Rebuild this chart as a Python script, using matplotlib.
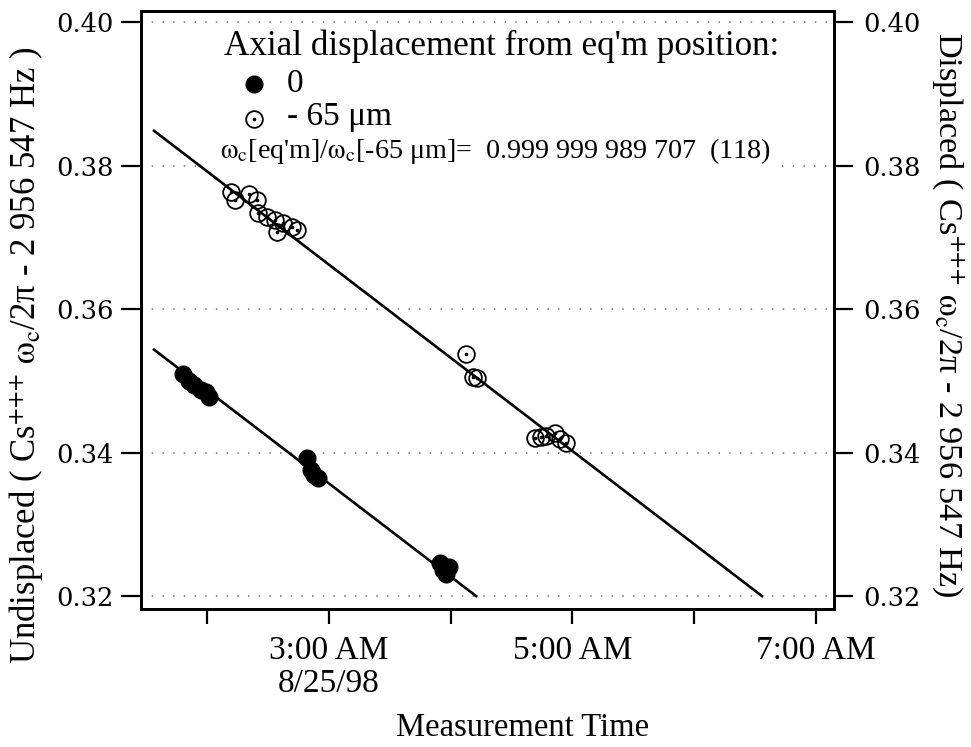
import numpy as np
import matplotlib
matplotlib.use("Agg")
import matplotlib.pyplot as plt
from matplotlib.lines import Line2D

# Measurement times: hours after midnight on 8/25/98
# Frequencies: Cs+++ omega_c/2pi - 2 956 547 Hz
eqm_time = [1.80, 1.85, 1.89, 1.95, 1.99, 2.02,
            2.82, 2.85, 2.88, 2.91,
            3.91, 3.94, 3.96, 3.99]
eqm_freq = [0.3510, 0.3500, 0.3494, 0.3488, 0.3484, 0.3478,
            0.3393, 0.3376, 0.3369, 0.3365,
            0.3246, 0.3236, 0.3231, 0.3241]

disp_time = [2.195, 2.230, 2.347, 2.408, 2.421, 2.490, 2.558, 2.572, 2.626, 2.695, 2.736,
             4.124, 4.186, 4.214,
             4.69, 4.74, 4.78, 4.86, 4.90, 4.95]
disp_freq = [0.3763, 0.3752, 0.3761, 0.3752, 0.3734, 0.3729, 0.3725, 0.3708, 0.3720, 0.3715, 0.3711,
             0.3538, 0.3506, 0.3504,
             0.3421, 0.3422, 0.3423, 0.3428, 0.3419, 0.3413]

# Linear drift fits (common slope, Hz per hour) and values at t = 0
fit_slope = -0.0130
eqm_intercept = 0.37472
disp_intercept = 0.40524
fit_start = 1.565
fit_floor = 0.32

x_ticks = [2, 3, 4, 5, 6, 7]
x_tick_labels = ["", "3:00 AM\n8/25/98", "", "5:00 AM", "", "7:00 AM"]
y_ticks = [0.32, 0.34, 0.36, 0.38, 0.40]
y_tick_labels = ["0.32", "0.34", "0.36", "0.38", "0.40"]

plt.rcParams["font.family"] = ["Liberation Serif", "DejaVu Serif"]
plt.rcParams["mathtext.fontset"] = "stix"

W, H = 971, 747
fig = plt.figure(figsize=(W / 100, H / 100), dpi=100)


def fx(px):
    return px / W


def fy(py):
    return 1 - py / H


ax = fig.add_axes([fx(141), fy(609), fx(834) - fx(141), fy(11) - fy(609)])
ax2 = ax.twinx()

xlim = (1.458, 7.148)
ylim = (0.3182, 0.4016)
for a in (ax, ax2):
    a.set_xlim(*xlim)
    a.set_ylim(*ylim)
    a.set_yticks(y_ticks)
    a.set_yticklabels(y_tick_labels, family="DejaVu Serif", fontsize=18.5)
    for s in a.spines.values():
        s.set_linewidth(2.0)

ax.set_xticks(x_ticks)
ax.set_xticklabels(x_tick_labels, fontsize=24, linespacing=1.12)
ax.tick_params(axis="x", direction="out", length=11, width=1.6, pad=8)
ax.tick_params(axis="y", direction="out", length=14.5, width=1.6, pad=5)
ax2.tick_params(axis="y", direction="out", length=14, width=1.6, pad=7)

# dotted reference lines at each frequency tick; the 0.38 line is
# interrupted where the frequency-ratio annotation sits
grid_kw = dict(color="#777777", lw=1.1, ls=(0, (1, 6)), zorder=1)
for yv in y_ticks:
    if yv == 0.38:
        ax.axhline(yv, xmin=0.0, xmax=0.09, **grid_kw)
        ax.axhline(yv, xmin=0.925, xmax=1.0, **grid_kw)
    else:
        ax.axhline(yv, **grid_kw)

# drift fits, drawn down to the 0.32 level
for b, axis in ((eqm_intercept, ax), (disp_intercept, ax2)):
    t_end = (fit_floor - b) / fit_slope
    t = np.array([fit_start, t_end])
    axis.plot(t, b + fit_slope * t, color="black", lw=1.9, zorder=3)

ax.plot(eqm_time, eqm_freq, ls="none", marker="o", ms=12,
        mfc="black", mec="black", zorder=4)
ax2.plot(disp_time, disp_freq, ls="none", marker="o", ms=12,
         mfc="none", mec="black", mew=1.3, zorder=4)
ax2.plot(disp_time, disp_freq, ls="none", marker="o", ms=1.6,
         mfc="black", mec="black", zorder=4)

# legend block
fig.text(fx(502), fy(46), "Axial displacement from eq'm position:",
         ha="center", va="center", fontsize=25.2)
fig.add_artist(Line2D([fx(254)], [fy(84)], transform=fig.transFigure,
                      marker="o", ms=12, mfc="black", mec="black"))
fig.text(fx(287), fy(84), "0", ha="left", va="center", fontsize=24)
fig.add_artist(Line2D([fx(254)], [fy(119)], transform=fig.transFigure,
                      marker="o", ms=12, mfc="none", mec="black", mew=1.3))
fig.add_artist(Line2D([fx(254)], [fy(119)], transform=fig.transFigure,
                      marker="o", ms=1.6, mfc="black", mec="black"))
fig.text(fx(287), fy(117), "- 65 μm", ha="left", va="center", fontsize=24)
fig.text(fx(220), fy(158),
         "$\\mathrm{\\omega_c}$[eq'm]/$\\mathrm{\\omega_c}$[-65 μm]=  0.999 999 989 707  (118)",
         ha="left", va="baseline", fontsize=20.2)

# axis titles
fig.text(fx(27), fy(355),
         "Undisplaced ( Cs$^{{+}{+}{+}}$ $\\mathrm{\\omega_c}$/2π - 2 956 547 Hz )",
         rotation=90, ha="center", va="center", fontsize=25)
fig.text(fx(948), fy(315),
         "Displaced ( Cs$^{{+}{+}{+}}$ $\\mathrm{\\omega_c}$/2π - 2 956 547 Hz)",
         rotation=-90, ha="center", va="center", fontsize=24.7)
fig.text(fx(523), fy(728), "Measurement Time", ha="center", va="center", fontsize=23.5)

fig.savefig("out.png", dpi=100)
